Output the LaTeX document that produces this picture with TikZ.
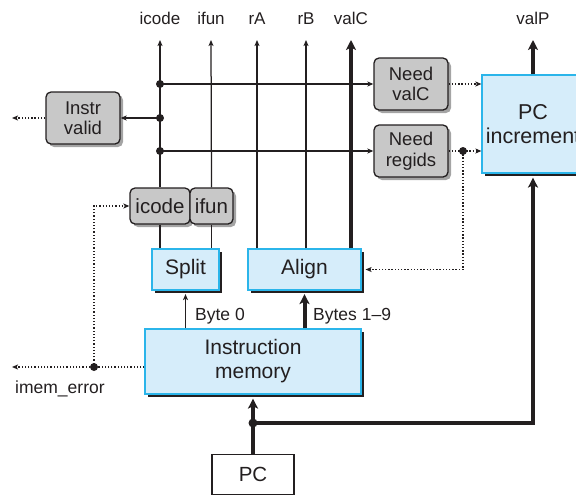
\documentclass[tikz,border=0pt]{standalone}
\usepackage{fontspec}
\setmainfont{Liberation Sans}
\usetikzlibrary{arrows.meta,shadows}
\definecolor{boxgray}{HTML}{C8C8C8}
\definecolor{shgray}{HTML}{A4A4A4}
\definecolor{bluefill}{HTML}{D6EDFA}
\definecolor{blueline}{HTML}{2BB5EA}
\definecolor{ink}{HTML}{231F20}
\begin{document}
\begin{tikzpicture}[x=1pt,y=-1pt,
  graybox/.style={draw=ink, line width=1.3pt, fill=boxgray, rounded corners=5pt,
    inner sep=0pt, align=center, text=ink, font=\fontsize{18.5}{20.5}\selectfont,
    drop shadow={shadow xshift=3pt,shadow yshift=-3pt,fill=shgray,opacity=1}},
  bluebox/.style={draw=blueline, line width=1.2pt, fill=bluefill, inner sep=0pt,
    align=center, text=ink, font=\fontsize{21}{24}\selectfont,
    drop shadow={shadow xshift=3pt,shadow yshift=-3pt,fill=ink,opacity=1}},
  plainbox/.style={draw=ink, line width=1.3pt, fill=white, inner sep=0pt,
    text=ink, font=\fontsize{20.5}{24}\selectfont},
  toplbl/.style={anchor=base, text=ink, font=\fontsize{17}{20}\selectfont, inner sep=0pt},
  sidelbl/.style={anchor=base west, text=ink, font=\fontsize{17.5}{20}\selectfont, inner sep=0pt},
  wire/.style={draw=ink, line width=1.25pt},
  sig/.style={wire, -{Stealth[length=6pt,width=5pt,inset=1.5pt]}},
  bus/.style={draw=ink, line width=4pt, -{Stealth[length=10pt,width=10pt,inset=2.5pt]}},
  dotline/.style={draw=ink, line width=1.3pt, dash pattern=on 1.3pt off 1.9pt},
  dotsig/.style={dotline, -{Stealth[length=6pt,width=5pt,inset=1.5pt]}},
  junc/.style={fill=ink}
]
\clip (0,0) rectangle (576,496);

% top labels
\node[toplbl] (licode) at (160,24) {icode};
\node[toplbl] (lifun) at (211,24) {ifun};
\node[toplbl] (lra) at (257,24) {rA};
\node[toplbl] (lrb) at (306,24) {rB};
\node[toplbl] (lvalc) at (351,24) {valC};
\node[toplbl] (lvalp) at (533,24) {valP};

\coordinate (tI) at (160,40);
\coordinate (tF) at (211,40);
\coordinate (tA) at (257,40);
\coordinate (tB) at (306,40);
\coordinate (tC) at (351,40);
\coordinate (tP) at (533,40);

\coordinate (d1) at (160,84);
\coordinate (d2) at (160,118);
\coordinate (d3) at (160,151);
\coordinate (d4) at (463,151);
\coordinate (d5) at (94,367);
\coordinate (d6) at (253,423);
\coordinate (ivout) at (12,118);
\coordinate (ieout) at (12,367);

% boxes
\node[graybox, minimum width=74pt, minimum height=52pt] (instrvalid) at (83,118) {Instr\\valid};
\node[graybox, minimum width=74pt, minimum height=52pt] (needvalc) at (411,84) {Need\\valC};
\node[graybox, minimum width=74pt, minimum height=52pt] (needregids) at (411,151) {Need\\regids};
\node[graybox, minimum width=60pt, minimum height=36pt, font=\fontsize{20.5}{24}\selectfont] (icodebox) at (160,206) {icode};
\node[graybox, minimum width=43pt, minimum height=36pt, font=\fontsize{20.5}{24}\selectfont] (ifunbox) at (211.5,206) {ifun};

\node[bluebox, minimum width=67pt, minimum height=41pt] (split) at (185.5,269.5) {Split};
\node[bluebox, minimum width=113pt, minimum height=41pt] (align) at (304.5,269.5) {Align};
\node[bluebox, minimum width=216pt, minimum height=65pt] (imem) at (253,361.5) {Instruction\\memory};
\node[bluebox, minimum width=102pt, minimum height=98pt, font=\fontsize{21.5}{23.5}\selectfont] (pcinc) at (533,124) {PC\\increment};
\node[plainbox, minimum width=82pt, minimum height=40pt] (pc) at (253,474.5) {PC};

% upward signals
\draw[sig] (icodebox.north) -- (tI);
\draw[sig] (ifunbox.north) -- (tF);
\draw[sig] (align.north -| tA) -- (tA);
\draw[sig] (align.north -| tB) -- (tB);
\draw[bus] (align.north -| tC) -- (tC);
\draw[bus] (pcinc.north -| tP) -- (tP);

% icode/ifun to split
\draw[wire] (icodebox.south) -- (icodebox.south |- split.north);
\draw[wire] (ifunbox.south) -- (ifunbox.south |- split.north);

% horizontal taps
\draw[sig] (d1) -- (needvalc);
\draw[sig] (d2) -- (instrvalid);
\draw[sig] (d3) -- (needregids);
\fill[junc] (d1) circle (4pt);
\fill[junc] (d2) circle (4pt);
\fill[junc] (d3) circle (4pt);
\draw[dotsig] (instrvalid) -- (ivout);

% need boxes to PC increment
\draw[dotsig] (needvalc.east) -- (needvalc.east -| pcinc.west);
\draw[dotline] (needregids.east) -- (d4);
\draw[dotsig] (d4) -- (d4 -| pcinc.west);
\draw[dotsig] (d4) |- ([xshift=4pt]align.east);
\fill[junc] (d4) circle (4pt);

% memory outputs
\draw[sig] (imem.north -| split) -- ([yshift=-3.5pt]split.south);
\node[sidelbl] (lbyte0) at (195,320) {Byte 0};
\draw[bus] (imem.north -| align) -- ([yshift=-3.5pt]align.south);
\node[sidelbl] (lbytes) at (313,320) {Bytes 1--9};

% imem_error
\draw[dotsig] (imem.west |- d5) -- (ieout);
\draw[dotsig] (d5) |- (icodebox.west);
\fill[junc] (d5) circle (4pt);
\node[sidelbl] (limem) at (15,393) {imem\_error};

% PC
\draw[bus] (pc.north) -- ([yshift=-4pt]imem.south);
\draw[bus] (d6) -| ([yshift=-4pt]pcinc.south -| tP);
\fill[junc] (d6) circle (4.5pt);
\end{tikzpicture}
\end{document}
